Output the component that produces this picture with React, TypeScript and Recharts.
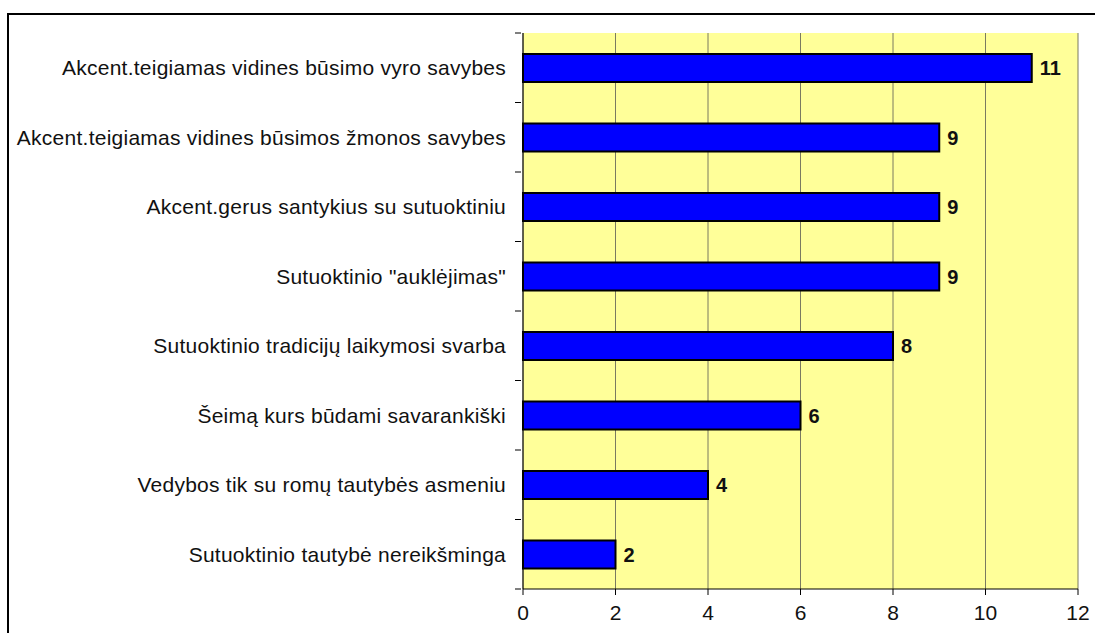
import { Bar, BarChart, CartesianGrid, LabelList, XAxis, YAxis } from 'recharts';

const categories = [
  'Akcent.teigiamas vidines būsimo vyro savybes',
  'Akcent.teigiamas vidines būsimos žmonos savybes',
  'Akcent.gerus santykius su sutuoktiniu',
  'Sutuoktinio "auklėjimas"',
  'Sutuoktinio tradicijų laikymosi svarba',
  'Šeimą kurs būdami savarankiški',
  'Vedybos tik su romų tautybės asmeniu',
  'Sutuoktinio tautybė nereikšminga',
];
const values = [11, 9, 9, 9, 8, 6, 4, 2];
const xTicks = [0, 2, 4, 6, 8, 10, 12];

const data = categories.map((name, i) => ({ name, value: values[i] }));

const WIDTH = 1095;
const HEIGHT = 633;
const TOP = 33;
const XAXIS_H = 44;
const YAXIS_W = 523;
const band = (HEIGHT - TOP - XAXIS_H) / categories.length;
const FONT = '"Liberation Sans", Arial, sans-serif';

function CategoryTick(props: any) {
  const { x, y, payload, index } = props;
  const ax = x + 8; // axis line position (tickLine hidden, tickSize 8)
  return (
    <g>
      <line x1={ax - 6} x2={ax} y1={y - band / 2} y2={y - band / 2} stroke="#000" />
      {index === categories.length - 1 && (
        <line x1={ax - 6} x2={ax} y1={y + band / 2} y2={y + band / 2} stroke="#000" />
      )}
      <text
        x={ax - 15}
        y={y}
        dy="0.35em"
        textAnchor="end"
        fill="#111"
        fontSize={21}
        letterSpacing={0.25}
        fontFamily={FONT}
      >
        {payload.value}
      </text>
    </g>
  );
}

export default function App() {
  return (
    <div style={{ position: 'absolute', left: 0, top: 0, width: WIDTH, height: HEIGHT, overflow: 'hidden', background: '#fff' }}>
      <div
        style={{
          position: 'absolute',
          left: 7,
          top: 13,
          width: 1200,
          height: 800,
          border: '2px solid #000',
        }}
      />
      <div style={{ position: 'absolute', left: 0, top: 0 }}>
        <BarChart
          width={WIDTH}
          height={HEIGHT}
          data={data}
          layout="vertical"
          margin={{ top: TOP, right: 17, bottom: 0, left: 0 }}
        >
          <CartesianGrid fill="#FFFF99" horizontal={false} stroke="#7a7a60" strokeWidth={1} />
          <XAxis
            type="number"
            domain={[0, 12]}
            ticks={xTicks}
            interval={0}
            height={XAXIS_H}
            axisLine={{ stroke: '#000' }}
            tickLine={{ stroke: '#000' }}
            tickSize={6}
            tickMargin={10}
            tick={{ fill: '#111', fontSize: 21, fontFamily: FONT }}
          />
          <XAxis
            xAxisId="top"
            orientation="top"
            type="number"
            domain={[0, 12]}
            height={0}
            tick={false}
            tickLine={false}
            axisLine={{ stroke: '#8a8a8a' }}
          />
          <YAxis
            type="category"
            dataKey="name"
            width={YAXIS_W}
            interval={0}
            axisLine={{ stroke: '#000' }}
            tickLine={false}
            tickSize={8}
            tick={<CategoryTick />}
          />
          <Bar dataKey="value" fill="#0000FF" stroke="#000" strokeWidth={2} barSize={28} isAnimationActive={false}>
            <LabelList
              dataKey="value"
              position="right"
              offset={8}
              fill="#111"
              fontSize={20}
              fontWeight="bold"
              fontFamily={FONT}
            />
          </Bar>
        </BarChart>
      </div>
    </div>
  );
}
